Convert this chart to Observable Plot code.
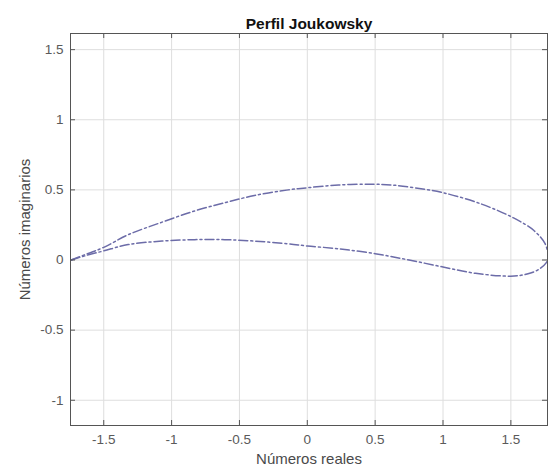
<!DOCTYPE html>
<html><head><meta charset="utf-8">
<script src="https://cdn.jsdelivr.net/npm/d3@7"></script>
<script src="https://cdn.jsdelivr.net/npm/@observablehq/plot@0.6"></script>
<style>body{margin:0;background:#fff}</style>
</head><body><div id="chart"></div>
<script>
// Upper surface of the airfoil (leading edge -> trailing edge)
const upperX = [-1.74, -1.62, -1.5, -1.32, -1.07, -0.83, -0.6, -0.39, -0.14, 0, 0.23, 0.47, 0.62, 0.79, 1.0, 1.28, 1.52, 1.67, 1.75, 1.78];
const upperY = [0.0, 0.045, 0.09, 0.18, 0.27, 0.35, 0.41, 0.46, 0.50, 0.515, 0.535, 0.54, 0.535, 0.515, 0.48, 0.40, 0.30, 0.21, 0.12, 0.03];
// Lower surface of the airfoil (leading edge -> trailing edge)
const lowerX = [-1.74, -1.62, -1.5, -1.32, -1.07, -0.83, -0.61, -0.39, -0.14, 0, 0.23, 0.5, 0.75, 1.0, 1.24, 1.5, 1.62, 1.7, 1.76, 1.78];
const lowerY = [0.0, 0.035, 0.065, 0.11, 0.135, 0.145, 0.145, 0.135, 0.115, 0.10, 0.08, 0.045, 0.0, -0.05, -0.095, -0.115, -0.10, -0.07, -0.02, 0.03];

const xTicks = [-1.5, -1, -0.5, 0, 0.5, 1, 1.5];
const yTicks = [-1, -0.5, 0, 0.5, 1, 1.5];
const titleText = "Perfil Joukowsky";
const xLabel = "Números reales";
const yLabel = "Números imaginarios";

const upper = upperX.map((x, i) => ({x, y: upperY[i]}));
const lower = lowerX.map((x, i) => ({x, y: lowerY[i]}));
const fmt = d => String(d);

const lineStyle = {x: "x", y: "y", curve: "catmull-rom", stroke: "#6c6ca8", strokeWidth: 1.5, strokeDasharray: "9,3,2,3"};

const chart = Plot.plot({
  width: 548, height: 473,
  marginLeft: 70, marginRight: 1, marginTop: 33, marginBottom: 48,
  style: {fontFamily: "'Liberation Sans', Arial, sans-serif", fontSize: "13.5px", color: "#5a5a5a", background: "#fff", overflow: "visible"},
  x: {domain: [-1.745, 1.77]},
  y: {domain: [-1.18, 1.615]},
  marks: [
    Plot.gridX(xTicks, {stroke: "#dedede", strokeOpacity: 1}),
    Plot.gridY(yTicks, {stroke: "#dedede", strokeOpacity: 1}),
    Plot.line(upper, lineStyle),
    Plot.line(lower, lineStyle),
    Plot.tickX(xTicks, {x: d => d, insetTop: 387, stroke: "#555"}),
    Plot.tickX(xTicks, {x: d => d, insetBottom: 387, stroke: "#555"}),
    Plot.tickY(yTicks, {y: d => d, insetRight: 472, stroke: "#555"}),
    Plot.tickY(yTicks, {y: d => d, insetLeft: 472, stroke: "#555"}),
    Plot.frame({stroke: "#555", strokeWidth: 1}),
    Plot.axisX(xTicks, {anchor: "bottom", tickSize: 0, tickPadding: 9, tickFormat: fmt, label: null}),
    Plot.axisY(yTicks, {anchor: "left", tickSize: 0, tickPadding: 7, tickFormat: fmt, label: null}),
    Plot.text([xLabel], {frameAnchor: "bottom", dy: 38, fontSize: 15, fill: "#4a4a4a"}),
    Plot.text([yLabel], {frameAnchor: "left", textAnchor: "middle", dx: -45, rotate: -90, fontSize: 15, fill: "#4a4a4a"}),
    Plot.text([titleText], {frameAnchor: "top", textAnchor: "middle", dy: -16, fontSize: 15.5, fontWeight: "bold", fill: "#111"})
  ]
});
document.getElementById("chart").appendChild(chart);
</script>
</body></html>
